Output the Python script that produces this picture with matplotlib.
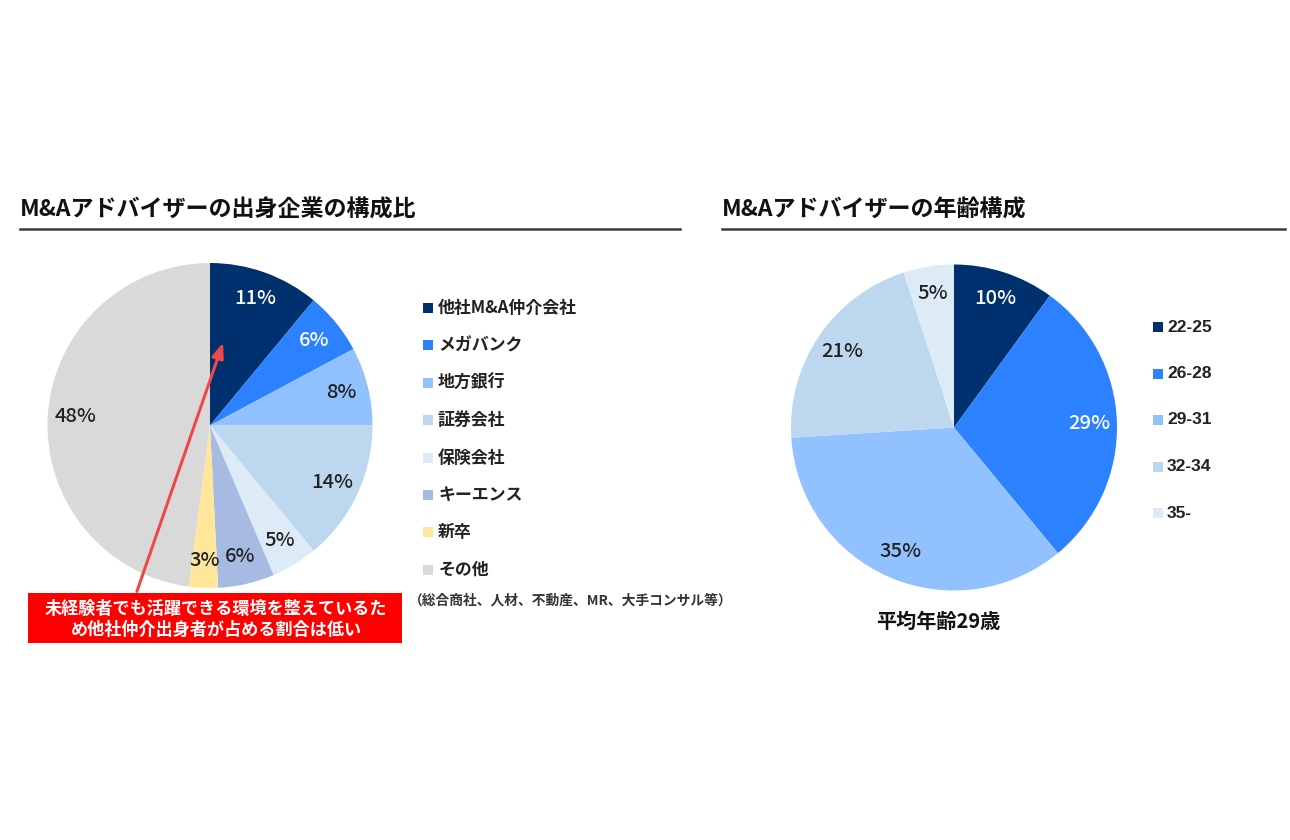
import matplotlib
matplotlib.use("Agg")
import matplotlib.pyplot as plt

plt.rcParams['font.family'] = ['Noto Sans CJK JP', 'DejaVu Sans']

# ---- data ----
title_left = "M&Aアドバイザーの出身企業の構成比"
title_right = "M&Aアドバイザーの年齢構成"

origin_labels = ["他社M&A仲介会社", "メガバンク", "地方銀行", "証券会社", "保険会社", "キーエンス", "新卒", "その他"]
# shares (%); labels show them rounded
origin_values = [11.0, 6.2, 7.8, 14.0, 4.6, 5.6, 2.9, 47.9]
origin_colors = ["#00306E", "#2B81FF", "#92C1FF", "#BDD7EE", "#DDEBF7", "#A7BBE2", "#FFE699", "#D9D9D9"]
origin_text_colors = ["white", "white", "#222222", "#222222", "#222222", "#222222", "#222222", "#222222"]
origin_note = "（総合商社、人材、不動産、MR、大手コンサル等）"

age_labels = ["22-25", "26-28", "29-31", "32-34", "35-"]
age_values = [10, 29, 35, 21, 5]
age_colors = ["#00306E", "#2B81FF", "#92C1FF", "#BDD7EE", "#DDEBF7"]
age_text_colors = ["white", "white", "#222222", "#222222", "#222222"]
age_caption = "平均年齢29歳"

callout = "未経験者でも活躍できる環境を整えているた\nめ他社仲介出身者が占める割合は低い"

W, H = 1290, 840
fig = plt.figure(figsize=(W / 100, H / 100), dpi=100)
fig.patch.set_facecolor("white")


def pie_axes(cx, cy, r):
    return fig.add_axes([(cx - r) / W, 1 - (cy + r) / H, 2 * r / W, 2 * r / H])


def draw_pie(ax, values, colors, tcolors):
    wedges, texts, autotexts = ax.pie(
        values, colors=colors, startangle=90, counterclock=False,
        autopct="%.0f%%", pctdistance=0.83,
        wedgeprops=dict(linewidth=0), radius=1.0)
    for at, c in zip(autotexts, tcolors):
        at.set_color(c)
        at.set_fontsize(14.5)
        at.set_fontweight(500)
    ax.set_xlim(-1, 1)
    ax.set_ylim(-1, 1)
    ax.set_aspect("auto")
    ax.axis("off")
    return wedges


axL = pie_axes(210, 425.5, 162.5)
draw_pie(axL, origin_values, origin_colors, origin_text_colors)

axR = pie_axes(954, 427.5, 163)
draw_pie(axR, age_values, age_colors, age_text_colors)

# overlay axes in pixel coordinates (on top of the pies)
ov = fig.add_axes([0, 0, 1, 1])
ov.set_xlim(0, W)
ov.set_ylim(H, 0)
ov.axis("off")
ov.set_zorder(10)

# titles and rules
ov.text(20, 210, title_left, fontsize=16.6, fontweight="bold", va="center", ha="left", color="#111111")
ov.plot([20, 680], [229, 229], color="#3a3a3a", lw=1.8)
ov.text(722, 210, title_right, fontsize=16.6, fontweight="bold", va="center", ha="left", color="#111111")
ov.plot([722, 1285], [229, 229], color="#3a3a3a", lw=1.8)

# left legend
for i, (lab, col) in enumerate(zip(origin_labels, origin_colors)):
    y = 308 + i * 37.4
    ov.scatter([428], [y], marker="s", s=44, color=col, linewidths=0, zorder=5)
    ov.text(438, y, lab, fontsize=12.2, fontweight="bold", va="center", ha="left", color="#222222")
ov.text(409, 601, origin_note, fontsize=9.9, fontweight="bold", va="center", ha="left", color="#333333")

# right legend
for i, (lab, col) in enumerate(zip(age_labels, age_colors)):
    y = 327 + i * 46.5
    ov.scatter([1158], [y], marker="s", s=44, color=col, linewidths=0, zorder=5)
    ov.text(1167, y, lab, fontsize=12.5, fontweight="bold", va="center", ha="left", color="#222222",
            family=['Liberation Sans'])

ov.text(938, 621, age_caption, fontsize=14.5, fontweight="bold", va="center", ha="center", color="#111111")

# callout arrow and box
ov.annotate("", xy=(224, 340), xytext=(136, 594),
            arrowprops=dict(arrowstyle="-|>,head_length=0.9,head_width=0.35", color="#F04848", lw=2.2),
            zorder=6)
ov.add_patch(plt.Rectangle((28, 593), 374, 50, facecolor="#FF0000", edgecolor="none", zorder=7))
ov.text(216, 619.5, callout, fontsize=12.3, fontweight="bold", color="white", ha="center", va="center",
        linespacing=1.25, zorder=8)

fig.savefig("out.png", dpi=100, facecolor="white")
